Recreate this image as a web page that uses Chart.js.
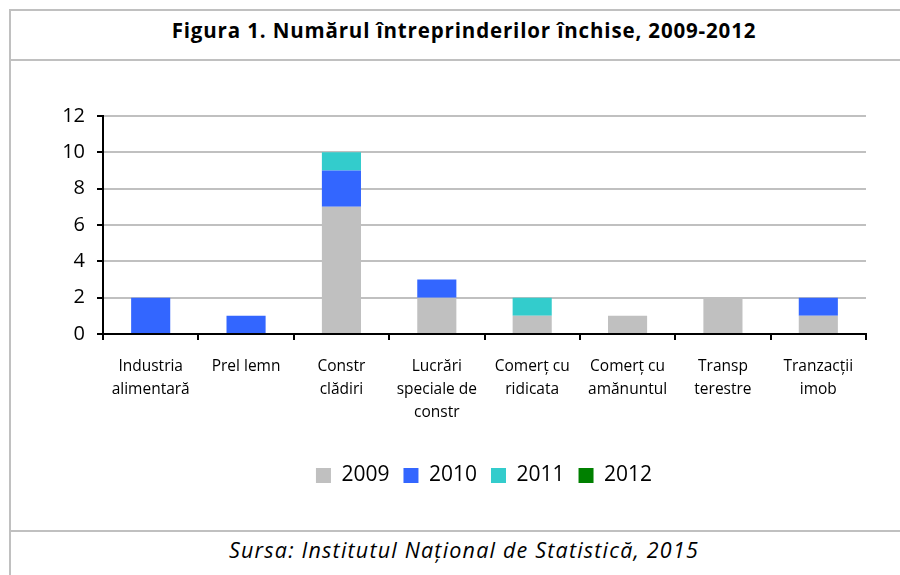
<!DOCTYPE html>
<html>
<head>
<meta charset="utf-8">
<script src="https://cdn.jsdelivr.net/npm/chart.js@4.4.1/dist/chart.umd.min.js"></script>
<style>
  html, body { margin:0; padding:0; background:#fff; }
  #wrap { position:relative; width:900px; height:575px; overflow:hidden; font-family: "Open Sans", Lato, sans-serif; }
  .ln { position:absolute; background:#c0c0c0; }
  #title { position:absolute; left:9px; width:910px; top:15px; line-height:30px; text-align:center; font-weight:bold; font-size:20.5px; letter-spacing:0.85px; color:#000; }
  #source { position:absolute; left:9px; width:910px; top:535px; line-height:30px; text-align:center; font-style:italic; font-size:21.5px; letter-spacing:1.2px; color:#000; }
  canvas { position:absolute; left:0; top:0; }
</style>
</head>
<body>
<div id="wrap">
  <div class="ln" style="left:9px; top:9px; width:2px; height:566px;"></div>
  <div class="ln" style="left:9px; top:9px; width:891px; height:2px;"></div>
  <div class="ln" style="left:9px; top:59px; width:891px; height:2px;"></div>
  <div class="ln" style="left:9px; top:530px; width:891px; height:2px;"></div>
  <div id="title">Figura 1. Numărul întreprinderilor închise, 2009-2012</div>
  <div id="source">Sursa: Institutul Național de Statistică, 2015</div>
  <canvas id="c" width="900" height="575"></canvas>
</div>
<script>
const categories = [
  ["Industria", "alimentară"],
  ["Prel lemn"],
  ["Constr", "clădiri"],
  ["Lucrări", "speciale de", "constr"],
  ["Comerț cu", "ridicata"],
  ["Comerț cu", "amănuntul"],
  ["Transp", "terestre"],
  ["Tranzacții", "imob"]
];
const seriesNames = ["2009", "2010", "2011", "2012"];
const values2009 = [0, 0, 7, 2, 1, 1, 2, 1];
const values2010 = [2, 1, 2, 1, 0, 0, 0, 1];
const values2011 = [0, 0, 1, 0, 1, 0, 0, 0];
const values2012 = [0, 0, 0, 0, 0, 0, 0, 0];
const yTicks = [0, 2, 4, 6, 8, 10, 12];

const colors = ["#C0C0C0", "#3366FF", "#33CCCC", "#008000"];
const allValues = [values2009, values2010, values2011, values2012];

const FONT = '"Open Sans", Lato, sans-serif';

const legendShift = {
  id: 'legendShift',
  afterLayout(chart) {
    const lg = chart.legend;
    if (lg) { lg.left += 41; lg.right += 41; }
  }
};

new Chart(document.getElementById('c'), {
  type: 'bar',
  data: {
    labels: categories,
    datasets: seriesNames.map((n, i) => ({
      label: n,
      data: allValues[i],
      backgroundColor: colors[i],
      borderWidth: 0,
      categoryPercentage: 1,
      barPercentage: 0.41
    }))
  },
  options: {
    responsive: false,
    animation: false,
    devicePixelRatio: 1,
    layout: { padding: { left: 20, right: 34, top: 116, bottom: 79 } },
    plugins: {
      tooltip: { enabled: false },
      legend: {
        position: 'bottom',
        labels: {
          boxWidth: 15, boxHeight: 15, padding: 14,
          color: '#000',
          font: { family: FONT, size: 21 }
        }
      }
    },
    scales: {
      x: {
        stacked: true,
        grid: { display: true, drawOnChartArea: false, drawTicks: true, tickLength: 6, color: '#000', lineWidth: 2, offset: true },
        border: { display: true, color: '#000', width: 2 },
        ticks: { color: '#000', font: { family: FONT, size: 15.5, lineHeight: 1.48 }, padding: 15, maxRotation: 0, autoSkip: false },
        afterFit: s => { s.height = 117; }
      },
      y: {
        stacked: true,
        min: 0, max: 12,
        afterBuildTicks: s => { s.ticks = yTicks.map(v => ({ value: v })); },
        grid: { color: '#c0c0c0', lineWidth: 2, tickLength: 6, tickColor: '#000', drawTicks: true },
        border: { display: true, color: '#000', width: 2 },
        ticks: { color: '#000', font: { family: FONT, size: 20 }, padding: 12 },
        afterFit: s => { s.width = 83; }
      }
    }
  },
  plugins: [legendShift]
});
</script>
</body>
</html>
